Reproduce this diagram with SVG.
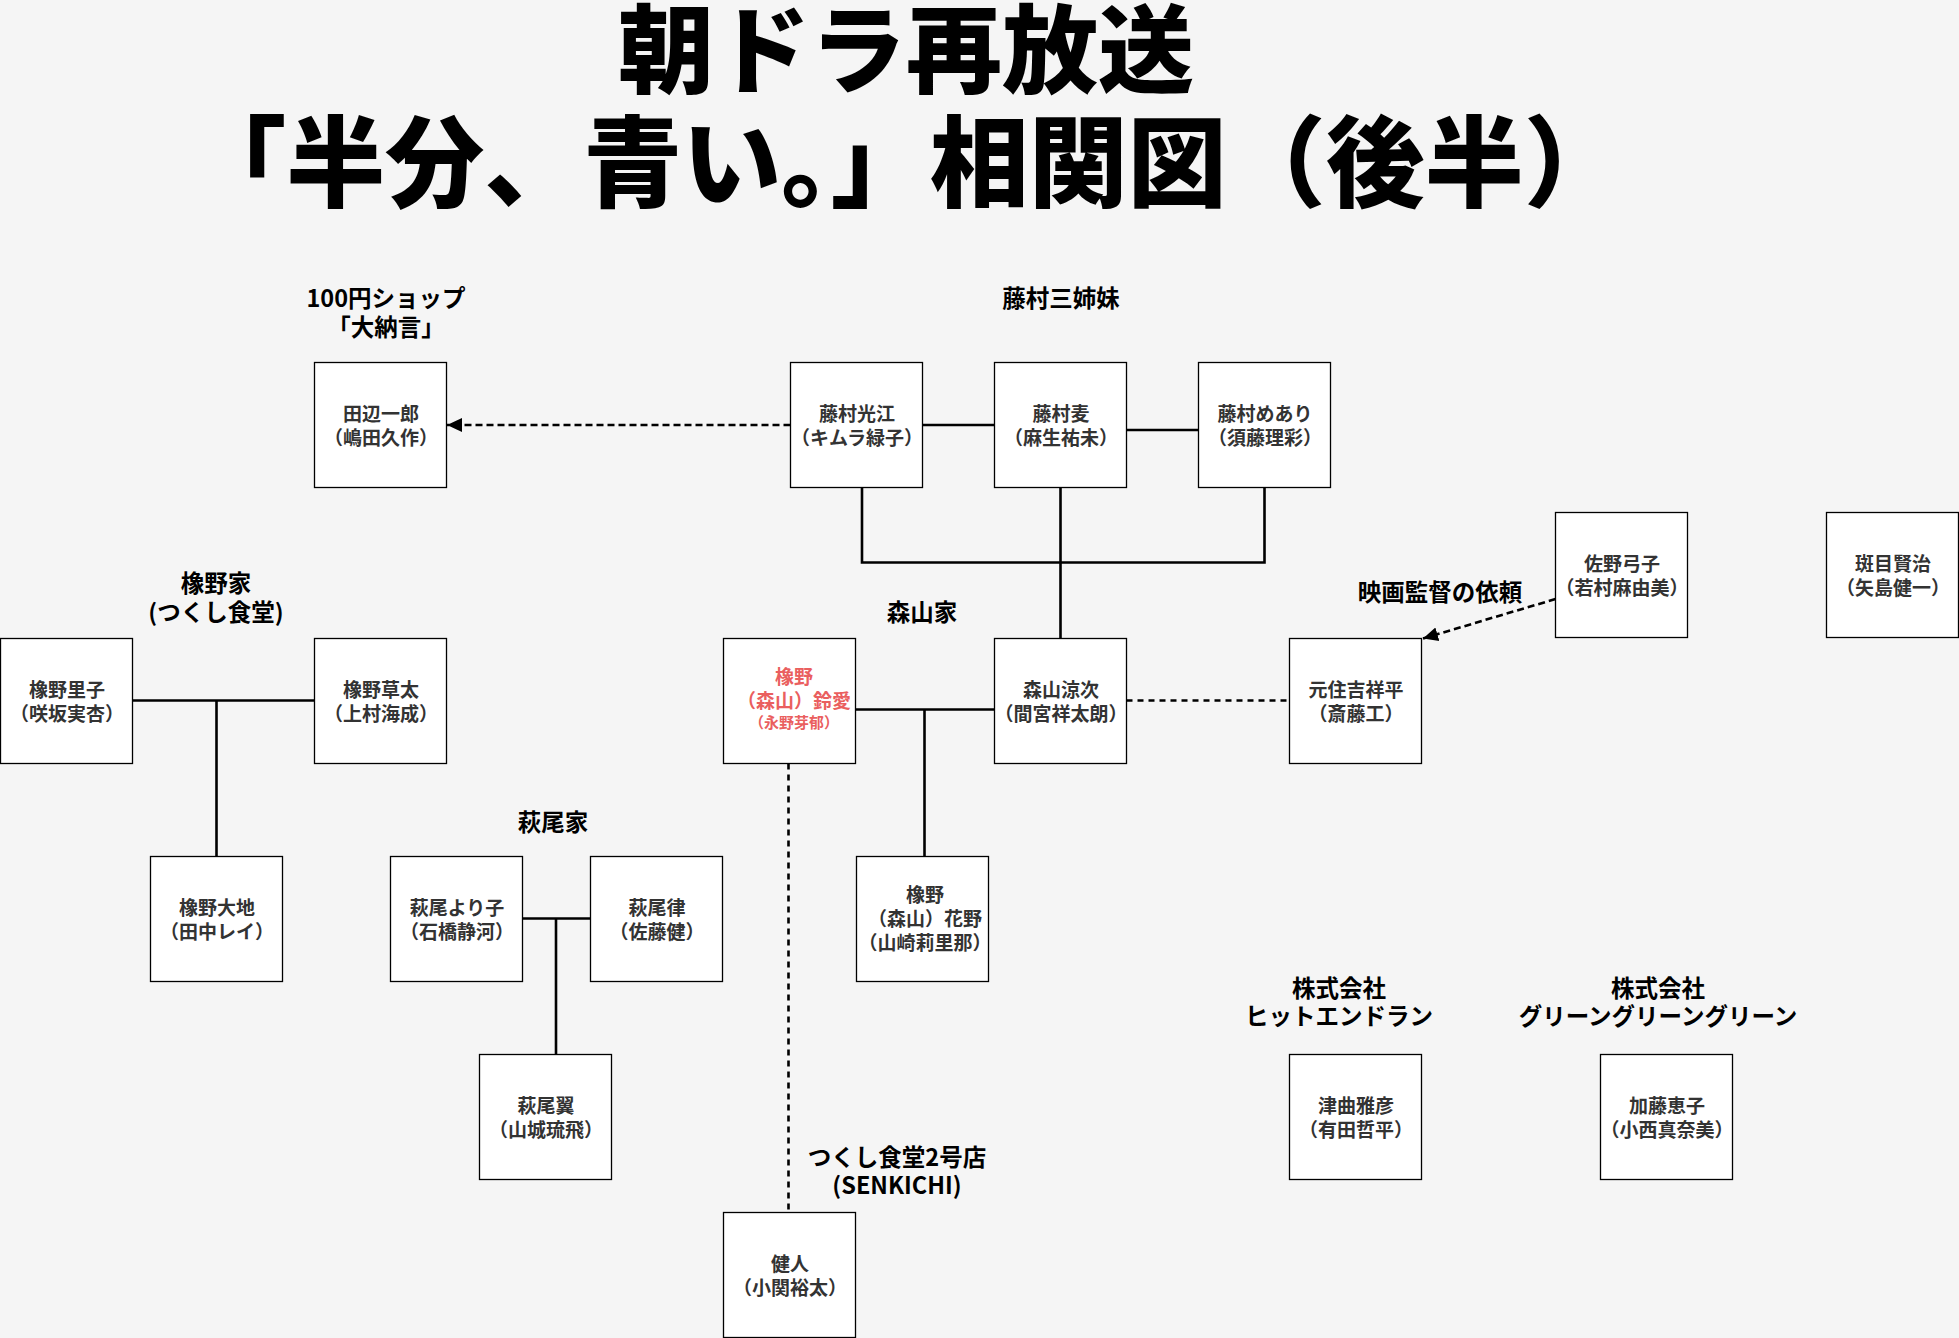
<svg xmlns="http://www.w3.org/2000/svg" width="1959" height="1338" viewBox="0 0 1959 1338">
<defs>
<style>
.bg{fill:#f5f5f5}
.box{fill:#ffffff;stroke:#000000;stroke-width:1.3}
.nt{font-family:"Noto Sans CJK JP","Noto Sans",sans-serif;font-size:19px;font-weight:bold;fill:#333333;text-anchor:middle}
.red{fill:#EA5F5F}
.lb{font-family:"Noto Sans CJK JP","Noto Sans",sans-serif;font-size:23.5px;font-weight:bold;fill:#000000;text-anchor:middle}
.title{font-family:"Noto Sans CJK JP","Noto Sans",sans-serif;font-size:96px;font-weight:900;fill:#000000;text-anchor:middle}
.ln{fill:none;stroke:#000000;stroke-width:2.6}
.dash{fill:none;stroke:#000000;stroke-width:2.6;stroke-dasharray:7 4}
.dot{fill:none;stroke:#000000;stroke-width:2.6;stroke-dasharray:6 5}
</style>
<marker id="arr" markerUnits="userSpaceOnUse" markerWidth="16" markerHeight="16" viewBox="0 0 16 16" refX="15" refY="8" orient="auto">
<path d="M0,1 L15,8 L0,15 Z" fill="#000000"/>
</marker>
</defs>
<rect class="bg" x="0" y="0" width="1959" height="1338"/>

<g id="title">
<text class="title" x="906" y="85">朝ドラ再放送</text>
<text class="title" x="905" y="199" style="font-size:99px">「半分、青い。」相関図（後半）</text>
</g>

<g id="labels">
<text class="lb" x="386" y="307">100円ショップ</text>
<text class="lb" x="386" y="336">「大納言」</text>
<text class="lb" x="1061" y="307">藤村三姉妹</text>
<text class="lb" x="216" y="592">橡野家</text>
<text class="lb" x="216" y="621">(つくし食堂)</text>
<text class="lb" x="922" y="621">森山家</text>
<text class="lb" x="1440" y="601">映画監督の依頼</text>
<text class="lb" x="553" y="831">萩尾家</text>
<text class="lb" x="897" y="1166">つくし食堂2号店</text>
<text class="lb" x="897" y="1194">(SENKICHI)</text>
<text class="lb" x="1339" y="997">株式会社</text>
<text class="lb" x="1339" y="1025">ヒットエンドラン</text>
<text class="lb" x="1658" y="997">株式会社</text>
<text class="lb" x="1658" y="1025">グリーングリーングリーン</text>
</g>

<g id="connectors">
<path class="dash" d="M790.5,425 L447,425" marker-end="url(#arr)"/>
<path class="ln" d="M922.5,425 L994.5,425"/>
<path class="ln" d="M1126.5,430 L1198.5,430"/>
<path class="ln" d="M862,487.5 L862,562.5 L1264.5,562.5 L1264.5,487.5"/>
<path class="ln" d="M1060.5,487.5 L1060.5,638.5"/>
<path class="ln" d="M132.5,700.5 L314.5,700.5"/>
<path class="ln" d="M216.5,700.5 L216.5,856.5"/>
<path class="ln" d="M855.5,709.5 L994.5,709.5"/>
<path class="ln" d="M924.5,709.5 L924.5,856.5"/>
<path class="dot" d="M1126.5,700.5 L1289.5,700.5"/>
<path class="dot" d="M788.5,763.5 L788.5,1212.5"/>
<path class="dash" d="M1555.5,599 L1423,638.5" marker-end="url(#arr)"/>
<path class="ln" d="M522.5,918.5 L590.5,918.5"/>
<path class="ln" d="M556,918.5 L556,1054.5"/>
</g>

<g id="n-tanabe"><rect class="box" x="314.5" y="362.5" width="132" height="125"/>
<text class="nt" x="381" y="420.5">田辺一郎</text><text class="nt" x="381" y="444.5">（嶋田久作）</text></g>

<g id="n-mitsue"><rect class="box" x="790.5" y="362.5" width="132" height="125"/>
<text class="nt" x="857" y="420.5">藤村光江</text><text class="nt" x="857" y="444.5">（キムラ緑子）</text></g>

<g id="n-mugi"><rect class="box" x="994.5" y="362.5" width="132" height="125"/>
<text class="nt" x="1061" y="420.5">藤村麦</text><text class="nt" x="1061" y="444.5">（麻生祐未）</text></g>

<g id="n-meari"><rect class="box" x="1198.5" y="362.5" width="132" height="125"/>
<text class="nt" x="1265" y="420.5">藤村めあり</text><text class="nt" x="1265" y="444.5">（須藤理彩）</text></g>

<g id="n-yumiko"><rect class="box" x="1555.5" y="512.5" width="132" height="125"/>
<text class="nt" x="1622" y="570.5">佐野弓子</text><text class="nt" x="1622" y="594.5">（若村麻由美）</text></g>

<g id="n-madarame"><rect class="box" x="1826.5" y="512.5" width="132" height="125"/>
<text class="nt" x="1893" y="570.5">斑目賢治</text><text class="nt" x="1893" y="594.5">（矢島健一）</text></g>

<g id="n-satoko"><rect class="box" x="0.5" y="638.5" width="132" height="125"/>
<text class="nt" x="67" y="696.5">橡野里子</text><text class="nt" x="67" y="720.5">（咲坂実杏）</text></g>

<g id="n-souta"><rect class="box" x="314.5" y="638.5" width="132" height="125"/>
<text class="nt" x="381" y="696.5">橡野草太</text><text class="nt" x="381" y="720.5">（上村海成）</text></g>

<g id="n-suzume"><rect class="box" x="723.5" y="638.5" width="132" height="125"/>
<text class="nt red" x="794" y="684">橡野</text>
<text class="nt red" x="794" y="708">（森山）鈴愛</text>
<text class="nt red" x="794" y="727.5" style="font-size:15px">（永野芽郁）</text></g>

<g id="n-ryouji"><rect class="box" x="994.5" y="638.5" width="132" height="125"/>
<text class="nt" x="1061" y="696.5">森山涼次</text><text class="nt" x="1061" y="720.5">（間宮祥太朗）</text></g>

<g id="n-shouhei"><rect class="box" x="1289.5" y="638.5" width="132" height="125"/>
<text class="nt" x="1356" y="696.5">元住吉祥平</text><text class="nt" x="1356" y="720.5">（斎藤工）</text></g>

<g id="n-daichi"><rect class="box" x="150.5" y="856.5" width="132" height="125"/>
<text class="nt" x="217" y="914.5">橡野大地</text><text class="nt" x="217" y="938.5">（田中レイ）</text></g>

<g id="n-yoriko"><rect class="box" x="390.5" y="856.5" width="132" height="125"/>
<text class="nt" x="457" y="914.5">萩尾より子</text><text class="nt" x="457" y="938.5">（石橋静河）</text></g>

<g id="n-ritsu"><rect class="box" x="590.5" y="856.5" width="132" height="125"/>
<text class="nt" x="657" y="914.5">萩尾律</text><text class="nt" x="657" y="938.5">（佐藤健）</text></g>

<g id="n-kano"><rect class="box" x="856.5" y="856.5" width="132" height="125"/>
<text class="nt" x="925" y="902">橡野</text>
<text class="nt" x="925" y="926">（森山）花野</text>
<text class="nt" x="925" y="950">（山崎莉里那）</text></g>

<g id="n-tsubasa"><rect class="box" x="479.5" y="1054.5" width="132" height="125"/>
<text class="nt" x="546" y="1112.5">萩尾翼</text><text class="nt" x="546" y="1136.5">（山城琉飛）</text></g>

<g id="n-tsumagari"><rect class="box" x="1289.5" y="1054.5" width="132" height="125"/>
<text class="nt" x="1356" y="1112.5">津曲雅彦</text><text class="nt" x="1356" y="1136.5">（有田哲平）</text></g>

<g id="n-keiko"><rect class="box" x="1600.5" y="1054.5" width="132" height="125"/>
<text class="nt" x="1667" y="1112.5">加藤恵子</text><text class="nt" x="1667" y="1136.5">（小西真奈美）</text></g>

<g id="n-kento"><rect class="box" x="723.5" y="1212.5" width="132" height="125"/>
<text class="nt" x="790" y="1270.5">健人</text><text class="nt" x="790" y="1294.5">（小関裕太）</text></g>
</svg>
